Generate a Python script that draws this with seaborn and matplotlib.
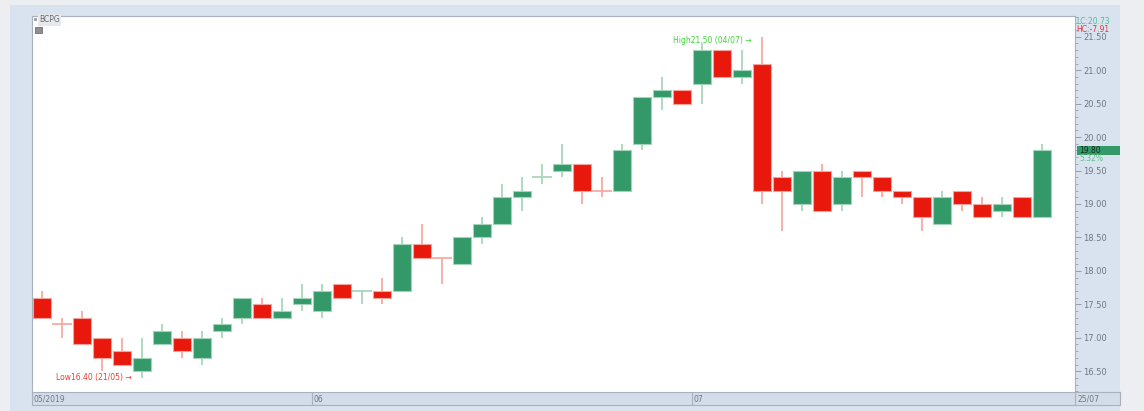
import numpy as np
import pandas as pd
import matplotlib
matplotlib.use("Agg")
import matplotlib.pyplot as plt
import seaborn as sns
from matplotlib.patches import Rectangle
from matplotlib.ticker import MultipleLocator, FormatStrFormatter

# daily candles for BCPG, 14/05/2019 -> 24/07/2019
opens = [17.6, 17.2, 17.3, 17.0, 16.8, 16.5, 16.9, 17.0, 16.7, 17.1, 17.3, 17.5, 17.3,
         17.5, 17.4, 17.8, 17.7, 17.7, 17.7, 18.4, 18.2, 18.1, 18.5, 18.7, 19.1, 19.4,
         19.5, 19.6, 19.2, 19.2, 19.9, 20.6, 20.7, 20.8, 21.3, 20.9, 21.1, 19.4, 19.0,
         19.5, 19.0, 19.5, 19.4, 19.2, 19.1, 18.7, 19.2, 19.0, 18.9, 19.1, 18.8]
closes = [17.3, 17.2, 16.9, 16.7, 16.6, 16.7, 17.1, 16.8, 17.0, 17.2, 17.6, 17.3, 17.4,
          17.6, 17.7, 17.6, 17.7, 17.6, 18.4, 18.2, 18.2, 18.5, 18.7, 19.1, 19.2, 19.4,
          19.6, 19.2, 19.2, 19.8, 20.6, 20.7, 20.5, 21.3, 20.9, 21.0, 19.2, 19.2, 19.5,
          18.9, 19.4, 19.4, 19.2, 19.1, 18.8, 19.1, 19.0, 18.8, 19.0, 18.8, 19.8]
highs = [17.7, 17.3, 17.4, 17.0, 17.0, 17.0, 17.2, 17.1, 17.1, 17.3, 17.6, 17.6, 17.6,
         17.8, 17.8, 17.8, 17.7, 17.9, 18.5, 18.7, 18.2, 18.5, 18.8, 19.3, 19.4, 19.6,
         19.9, 19.6, 19.4, 19.9, 20.6, 20.9, 20.7, 21.4, 21.3, 21.3, 21.5, 19.5, 19.5,
         19.6, 19.5, 19.5, 19.4, 19.2, 19.1, 19.2, 19.2, 19.1, 19.1, 19.1, 19.9]
lows = [17.3, 17.0, 16.9, 16.5, 16.6, 16.4, 16.9, 16.7, 16.6, 17.0, 17.2, 17.3, 17.3,
        17.4, 17.3, 17.6, 17.5, 17.5, 17.7, 18.2, 17.8, 18.1, 18.4, 18.7, 18.9, 19.3,
        19.4, 19.0, 19.1, 19.2, 19.8, 20.4, 20.5, 20.5, 20.9, 20.8, 19.0, 18.6, 18.9,
        18.9, 18.9, 19.1, 19.1, 19.0, 18.6, 18.7, 18.9, 18.8, 18.8, 18.8, 18.8]

month_labels = ["05/2019", "06", "07"]
month_start = [0, 14, 33]
last_date = "25/07"

df = pd.DataFrame({"open": opens, "close": closes, "high": highs, "low": lows})
df["x"] = np.arange(len(df))
prev = df["close"].shift(1).fillna(df["open"])
df["up"] = np.where(df["close"] != df["open"], df["close"] > df["open"], df["close"] > prev)

GREEN, RED = "#339968", "#e8190c"
GREEN_L, RED_L = "#a3d3b8", "#f5a49c"

sns.set_style("white")
plt.rcParams["font.family"] = ["DejaVu Sans"]

W, H = 1144, 411
fig = plt.figure(figsize=(W / 100, H / 100), dpi=100)
fig.patch.set_facecolor("#eceef1")
fig.add_artist(Rectangle((10 / W, 0), 1110 / W, 406 / H, transform=fig.transFigure,
                         facecolor="#d9e3ef", edgecolor="none", zorder=0))

ax = fig.add_axes([32 / W, 19 / H, 1043 / W, 376 / H])
ax.set_facecolor("white")

# wicks
ax.vlines(df["x"], df["low"], df["high"],
          colors=np.where(df["up"], GREEN_L, RED_L), lw=1.2, zorder=1)

# bodies
body = df[df["open"] != df["close"]]
ax.bar(body["x"], (body["close"] - body["open"]).abs(),
       bottom=body[["open", "close"]].min(axis=1), width=0.94,
       color=np.where(body["up"], GREEN, RED),
       edgecolor=np.where(body["up"], GREEN_L, RED_L), lw=0.8, zorder=2)

# dojis
doji = df[df["open"] == df["close"]]
ax.hlines(doji["open"], doji["x"] - 0.48, doji["x"] + 0.48,
          colors=np.where(doji["up"], GREEN_L, RED_L), lw=1.2, zorder=2)

ax.set_xlim(-0.5, 51.65)
ax.set_ylim(16.19, 21.81)
ax.set_xticks([])
ax.yaxis.tick_right()
ax.yaxis.set_major_locator(MultipleLocator(0.5))
ax.yaxis.set_minor_locator(MultipleLocator(0.1))
ax.yaxis.set_major_formatter(FormatStrFormatter("%.2f"))
ax.tick_params(axis="y", which="major", right=True, length=4, width=0.6,
               color="#8a929e", labelsize=6, labelcolor="#6f7784", pad=2)
ax.tick_params(axis="y", which="minor", right=True, length=2, width=0.5, color="#8a929e")
for s in ["left", "top", "right"]:
    ax.spines[s].set_color("#a9b1bc")
    ax.spines[s].set_linewidth(0.8)
ax.spines["bottom"].set_visible(False)

# extreme labels
lo = df["low"].idxmin()
hi = df["high"].idxmax()
ax.text(lo - 0.5, df["low"][lo], "Low%.2f (21/05) \u2192" % df["low"][lo],
        ha="right", va="center", fontsize=5.5, color="#ee3a2a")
ax.text(hi - 0.5, df["high"][hi] - 0.05, "High%.2f (04/07) \u2192" % df["high"][hi],
        ha="right", va="center", fontsize=5.5, color="#3fd43a")

# date band
bx = fig.add_axes([32 / W, 6 / H, 1088 / W, 13 / H])
bx.set_facecolor("#d3ddea")
bx.set_xlim(-0.5, -0.5 + 1088 / 20)
bx.set_ylim(0, 1)
bx.set_xticks([])
bx.set_yticks([])
for s in bx.spines.values():
    s.set_color("#a9b1bc")
    s.set_linewidth(0.8)
for lab, i in zip(month_labels, month_start):
    bx.axvline(i - 0.5, color="#a9b1bc", lw=0.8)
    bx.text(i - 0.4, 0.45, lab, ha="left", va="center", fontsize=5.5, color="#6f7784")
bx.axvline(51.65, color="#a9b1bc", lw=0.8)
bx.text(51.8, 0.45, last_date, ha="left", va="center", fontsize=5.5, color="#6f7784")

# symbol box
fig.text(39 / W, 1 - 20 / H, "BCPG", fontsize=5.5, color="#666c75", va="center",
         bbox=dict(facecolor="#e6e8eb", edgecolor="none", pad=0.8))
fig.add_artist(Rectangle((34 / W, 1 - 21 / H), 3 / W, 3 / H, transform=fig.transFigure,
                         facecolor="#a0a4aa", edgecolor="none"))
fig.add_artist(Rectangle((35 / W, 1 - 33 / H), 7 / W, 6 / H, transform=fig.transFigure,
                         facecolor="#8c9096", edgecolor="#6c7076", lw=0.6))

# right-side info
fig.text(1076 / W, 1 - 21 / H, "LC:20.73", fontsize=5.5, color="#4fbf8a", va="center")
fig.text(1076 / W, 1 - 29 / H, "HC:-7.91", fontsize=5.5, color="#e8353a", va="center")
last = df["close"].iloc[-1]
ytag = ax.transData.transform((0, last))[1] / fig.dpi / (H / 100)
fig.add_artist(Rectangle((1077 / W, ytag - 4.5 / H), 43 / W, 9 / H, transform=fig.transFigure,
                         facecolor=GREEN, edgecolor="none"))
fig.text(1079 / W, ytag, "%.2f" % last, fontsize=5.5, color="#12301f", va="center")
fig.text(1079 / W, ytag - 8.5 / H, "5.32%", fontsize=5.5, color="#5cc08a", va="center")

fig.savefig("out.png", dpi=100, facecolor=fig.get_facecolor())
